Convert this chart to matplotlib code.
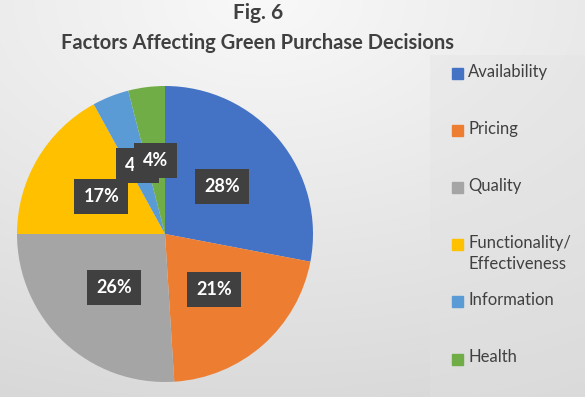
import matplotlib
matplotlib.use('Agg')
import matplotlib.pyplot as plt
import matplotlib.patches as mpatches
import numpy as np

plt.rcParams['font.family'] = ['Lato', 'DejaVu Sans']

# data
factors = ['Availability', 'Pricing', 'Quality', 'Functionality/\nEffectiveness',
           'Information', 'Health']
shares = [28, 21, 26, 17, 4, 4]
colors = ['#4472C4', '#ED7D31', '#A5A5A5', '#FFC000', '#5B9BD5', '#70AD47']

W, H = 585, 397
fig = plt.figure(figsize=(W / 100, H / 100), dpi=100)

# soft gray gradient background (light at top, darker toward bottom corners)
bg = fig.add_axes([0, 0, 1, 1], zorder=-10)
yy, xx = np.mgrid[0:1:200j, 0:1:300j]   # yy = 0 at top row
dist = np.sqrt(((xx - 0.45) * 0.9) ** 2 + (yy * 1.0) ** 2) / 1.1
val = 0.975 - 0.13 * dist
bg.imshow(np.dstack([val, val, val]), aspect='auto', extent=[0, 1, 0, 1],
          origin='upper')
bg.add_patch(mpatches.Rectangle((430 / W, 0), 1 - 430 / W, (H - 55) / H,
                                color='#e2e2e2', alpha=0.35, lw=0))
bg.set_xlim(0, 1)
bg.set_ylim(0, 1)
bg.axis('off')

# titles
fig.text(0.441, 1 - 13 / H, 'Fig. 6', ha='center', va='center',
         fontsize=15, fontweight='bold', color='#404040')
fig.text(0.441, 1 - 43 / H, 'Factors Affecting Green Purchase Decisions',
         ha='center', va='center', fontsize=14.5, fontweight='bold', color='#404040')

# pie
ax = fig.add_axes([17 / W, 15 / H, 296 / W, 296 / H])
wedges, texts, autotexts = ax.pie(
    shares, colors=colors, startangle=90, counterclock=False,
    autopct='%d%%', pctdistance=0.5,
    wedgeprops=dict(linewidth=0),
    textprops=dict(color='white', fontsize=13, fontweight='bold'))
for t in autotexts:
    t.set_bbox(dict(boxstyle='square,pad=0.5', facecolor='#404040',
                    edgecolor='none'))
ax.set_xlim(-1, 1)
ax.set_ylim(-1, 1)

# legend drawn by hand so the two-line entry keeps the even spacing
for i, (lab, col) in enumerate(zip(factors, colors)):
    y = 73 + i * 57.2
    fig.patches.append(mpatches.Rectangle((452 / W, 1 - (y + 5.5) / H), 11 / W, 11 / H,
                                          color=col, transform=fig.transFigure,
                                          figure=fig))
    fig.text(468 / W, 1 - (y - 9.5) / H, lab, ha='left', va='top',
             fontsize=12, color='#404040', linespacing=1.35)

fig.savefig('out.png', dpi=100)
